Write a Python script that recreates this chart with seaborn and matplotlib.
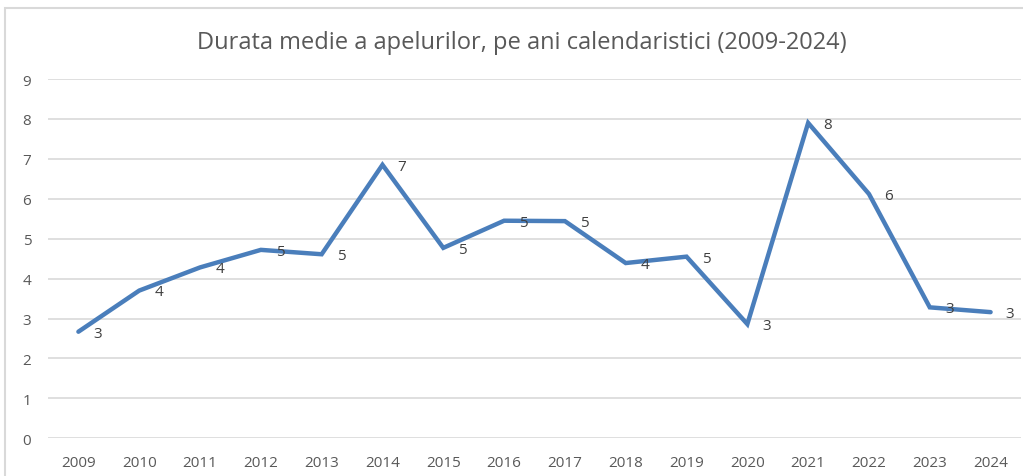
import pandas as pd
import matplotlib.pyplot as plt
import seaborn as sns
from matplotlib.patches import Rectangle

# Average call duration per calendar year
years = [2009, 2010, 2011, 2012, 2013, 2014, 2015, 2016,
         2017, 2018, 2019, 2020, 2021, 2022, 2023, 2024]
durata = [2.67, 3.70, 4.28, 4.72, 4.61, 6.85, 4.77, 5.45,
          5.44, 4.39, 4.55, 2.86, 7.90, 6.12, 3.28, 3.16]
labels = ["3", "4", "4", "5", "5", "7", "5", "5",
          "5", "4", "5", "3", "8", "6", "3", "3"]
title = "Durata medie a apelurilor, pe ani calendaristici (2009-2024)"

df = pd.DataFrame({"An": years, "Durata": durata})

sns.set_style("white")
plt.rcParams['font.family'] = ['Open Sans', 'DejaVu Sans']

fig = plt.figure(figsize=(10.23, 4.77), dpi=100)
ax = fig.add_axes([48 / 1023, 1 - 439.3 / 477, 973 / 1023, 359.3 / 477])

# chart frame (cropped at right and bottom)
fig.patches.append(Rectangle((5 / 1023, -0.2), 1.2, 1.2 - 9 / 477,
                             transform=fig.transFigure, fill=False,
                             edgecolor='#d9d9d9', linewidth=1.5))

sns.lineplot(data=df, x="An", y="Durata", ax=ax, color='#4a7ebb',
             linewidth=3.2, solid_joinstyle='miter')

for x, y, t in zip(years, durata, labels):
    ax.annotate(t, (x, y), xytext=(11, -1), textcoords='offset points',
                ha='left', va='center', fontsize=11, color='#404040')

ax.set_xlim(2008.5, 2024.5)
ax.set_ylim(0, 9)
ax.set_xticks(years)
ax.set_xticklabels([str(y) for y in years])
ax.set_yticks(range(0, 10))
ax.grid(axis='y', color='#d9d9d9', linewidth=1.2)
ax.set_axisbelow(True)
for s in ax.spines.values():
    s.set_visible(False)
ax.tick_params(axis='both', length=0, labelsize=11, colors='#595959')
ax.tick_params(axis='x', pad=12)
ax.tick_params(axis='y', pad=12)
ax.set_xlabel('')
ax.set_ylabel('')

fig.text(522 / 1023, 1 - 43 / 477, title, ha='center', va='center',
         fontsize=17, color='#595959')

fig.savefig("out.png", dpi=100)
